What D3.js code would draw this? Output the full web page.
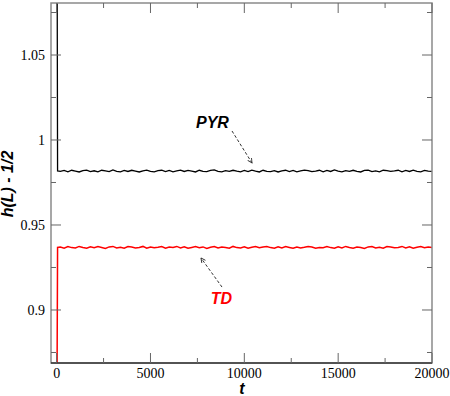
<!DOCTYPE html>
<html>
<head>
<meta charset="utf-8">
<script src="https://cdn.jsdelivr.net/npm/d3@7"></script>
<style>
  body { margin: 0; background: #fff; }
  svg { display: block; }
</style>
</head>
<body>
<div id="chart"></div>
<script>
// sample times: two transient points at the start, then one every 200 steps
var step = 200;
var headTimes = [0, 50];

// PYR series, h(L) - 1/2
var pyrHead = [1.25, 0.9818];
var pyrVals = [
  0.9815, 0.9821, 0.9813, 0.9822, 0.9817, 0.9812, 0.9820, 0.9823, 0.9814, 0.9819,
  0.9813, 0.9822, 0.9818, 0.9814, 0.9824, 0.9816, 0.9813, 0.9821, 0.9815, 0.9822,
  0.9817, 0.9812, 0.9819, 0.9823, 0.9816, 0.9813, 0.9820, 0.9822, 0.9814, 0.9821,
  0.9813, 0.9818, 0.9823, 0.9815, 0.9821, 0.9817, 0.9812, 0.9822, 0.9816, 0.9814,
  0.9821, 0.9824, 0.9816, 0.9813, 0.9820, 0.9815, 0.9822, 0.9817, 0.9813, 0.9821,
  0.9814, 0.9823, 0.9817, 0.9812, 0.9822, 0.9816, 0.9814, 0.9820, 0.9812, 0.9818,
  0.9822, 0.9814, 0.9821, 0.9813, 0.9818, 0.9823, 0.9820, 0.9814, 0.9817, 0.9822,
  0.9813, 0.9821, 0.9815, 0.9824, 0.9817, 0.9813, 0.9820, 0.9815, 0.9822, 0.9816,
  0.9812, 0.9821, 0.9823, 0.9814, 0.9818, 0.9813, 0.9822, 0.9820, 0.9815, 0.9818,
  0.9822, 0.9813, 0.9821, 0.9815, 0.9823, 0.9816, 0.9813, 0.9821, 0.9817, 0.9815
];

// TD series
var tdHead = [0.80, 0.9368];
var tdVals = [
  0.9371, 0.9364, 0.9373, 0.9367, 0.9365, 0.9374, 0.9368, 0.9363, 0.9372, 0.9366,
  0.9373, 0.9368, 0.9362, 0.9371, 0.9374, 0.9365, 0.9369, 0.9363, 0.9373, 0.9370,
  0.9365, 0.9368, 0.9374, 0.9363, 0.9371, 0.9366, 0.9369, 0.9373, 0.9364, 0.9371,
  0.9368, 0.9374, 0.9365, 0.9372, 0.9363, 0.9368, 0.9373, 0.9366, 0.9371, 0.9362,
  0.9369, 0.9373, 0.9365, 0.9371, 0.9368, 0.9363, 0.9374, 0.9367, 0.9365, 0.9372,
  0.9363, 0.9369, 0.9373, 0.9366, 0.9371, 0.9374, 0.9367, 0.9363, 0.9372, 0.9365,
  0.9373, 0.9368, 0.9363, 0.9371, 0.9365, 0.9369, 0.9374, 0.9370, 0.9363, 0.9368,
  0.9366, 0.9373, 0.9367, 0.9363, 0.9372, 0.9365, 0.9374, 0.9368, 0.9364, 0.9371,
  0.9368, 0.9362, 0.9371, 0.9373, 0.9365, 0.9369, 0.9363, 0.9373, 0.9371, 0.9366,
  0.9368, 0.9374, 0.9365, 0.9372, 0.9363, 0.9369, 0.9373, 0.9366, 0.9371, 0.9368
];

var xMajor = [0, 5000, 10000, 15000, 20000];
var xMinor = [2500, 7500, 12500, 17500];
var yMajor = [0.9, 0.95, 1, 1.05];
var yMinor = [0.875, 0.925, 0.975, 1.025, 1.075];

// annotations: text anchor (t, v), arrow from (t, v) to (t, v)
var notes = [
  { label: 'PYR', color: '#000', at: [7425, 1.0071], from: [9344, 1.0053], to: [10410, 0.9865] },
  { label: 'TD', color: '#ff0000', at: [8209, 0.9035], from: [8811, 0.9135], to: [7692, 0.9306] }
];

var width = 450, height = 396;
var margins = { left: 51, right: 18, top: 3, bottom: 33 };
var iw = width - margins.left - margins.right;
var ih = height - margins.top - margins.bottom;

var xScale = d3.scaleLinear().domain([-300, 20000]).range([0, iw]);
var yScale = d3.scaleLinear().domain([0.86882, 1.08059]).range([ih, 0]);

function toRows(head, vals) {
  var rows = head.map(function(v, i) { return { t: headTimes[i], v: v }; });
  vals.forEach(function(v, i) { rows.push({ t: (i + 1) * step, v: v }); });
  return rows;
}

var svg = d3.select('#chart').append('svg')
  .attr('width', width)
  .attr('height', height);

var defs = svg.append('defs');
defs.append('clipPath')
  .attr('id', 'clip')
  .append('rect')
  .attr('width', iw)
  .attr('height', ih);

defs.append('marker')
  .attr('id', 'arrow')
  .attr('viewBox', '0 0 8 8')
  .attr('refX', 7)
  .attr('refY', 4)
  .attr('markerWidth', 6)
  .attr('markerHeight', 6)
  .attr('markerUnits', 'userSpaceOnUse')
  .attr('orient', 'auto')
  .append('path')
  .attr('d', 'M1,1 L7,4 L1,7')
  .attr('fill', 'none')
  .attr('stroke', '#333')
  .attr('stroke-width', 1.2);

var viewport = svg.append('g')
  .attr('transform', 'translate(' + margins.left + ',' + margins.top + ')');

// series
var line = d3.line()
  .x(function(d) { return xScale(d.t); })
  .y(function(d) { return yScale(d.v); });

var plot = viewport.append('g').attr('clip-path', 'url(#clip)');
plot.append('path')
  .datum(toRows(pyrHead, pyrVals))
  .attr('d', line)
  .attr('fill', 'none')
  .attr('stroke', '#000')
  .attr('stroke-width', 1.3);
plot.append('path')
  .datum(toRows(tdHead, tdVals))
  .attr('d', line)
  .attr('fill', 'none')
  .attr('stroke', '#ff0000')
  .attr('stroke-width', 1.5);

// frame
viewport.append('rect')
  .attr('width', iw)
  .attr('height', ih)
  .attr('fill', 'none')
  .attr('stroke', '#8a8a8a')
  .attr('stroke-width', 1.5);
viewport.append('line')
  .attr('x1', 0).attr('x2', iw)
  .attr('y1', ih).attr('y2', ih)
  .attr('stroke', '#000')
  .attr('stroke-width', 1.2);

// ticks on all four sides, pointing inward
var ticks = viewport.append('g').attr('stroke', '#666').attr('stroke-width', 1);
function xTicks(vals, len) {
  vals.forEach(function(t) {
    var x = xScale(t);
    ticks.append('line').attr('x1', x).attr('x2', x).attr('y1', ih).attr('y2', ih - len);
    ticks.append('line').attr('x1', x).attr('x2', x).attr('y1', 0).attr('y2', len);
  });
}
function yTicks(vals, len) {
  vals.forEach(function(v) {
    var y = yScale(v);
    ticks.append('line').attr('x1', 0).attr('x2', len).attr('y1', y).attr('y2', y);
    ticks.append('line').attr('x1', iw).attr('x2', iw - len).attr('y1', y).attr('y2', y);
  });
}
xTicks(xMajor, 10);
xTicks(xMinor, 5);
yTicks(yMajor, 10);
yTicks(yMinor, 5);

// tick labels
var labelFont = "'Liberation Serif', 'Times New Roman', 'DejaVu Serif', serif";
viewport.selectAll('.xlab').data(xMajor).enter().append('text')
  .attr('x', function(d) { return xScale(d); })
  .attr('y', ih + 15)
  .attr('text-anchor', 'middle')
  .style('font-family', labelFont)
  .style('font-size', '14px')
  .text(function(d) { return d; });
viewport.selectAll('.ylab').data(yMajor).enter().append('text')
  .attr('x', -6)
  .attr('y', function(d) { return yScale(d); })
  .attr('dy', '0.35em')
  .attr('text-anchor', 'end')
  .style('font-family', labelFont)
  .style('font-size', '14px')
  .text(function(d) { return d; });

// axis titles
var titleFont = "'Liberation Sans', Arial, sans-serif";
svg.append('text')
  .attr('x', 242)
  .attr('y', 394)
  .attr('text-anchor', 'middle')
  .style('font-family', titleFont)
  .style('font-size', '16px')
  .style('font-weight', 'bold')
  .style('font-style', 'italic')
  .text('t');
svg.append('text')
  .attr('transform', 'translate(13,184) rotate(-90)')
  .attr('text-anchor', 'middle')
  .style('font-family', titleFont)
  .style('font-size', '16px')
  .style('font-weight', 'bold')
  .style('font-style', 'italic')
  .text('h(L) - 1/2');

// annotations
notes.forEach(function(n) {
  viewport.append('text')
    .attr('x', xScale(n.at[0]))
    .attr('y', yScale(n.at[1]))
    .style('font-family', titleFont)
    .style('font-size', '16px')
    .style('font-weight', 'bold')
    .style('font-style', 'italic')
    .attr('fill', n.color)
    .text(n.label);
  viewport.append('line')
    .attr('x1', xScale(n.from[0]))
    .attr('y1', yScale(n.from[1]))
    .attr('x2', xScale(n.to[0]))
    .attr('y2', yScale(n.to[1]))
    .attr('stroke', '#333')
    .attr('stroke-width', 1)
    .attr('stroke-dasharray', '3,2')
    .attr('marker-end', 'url(#arrow)');
});
</script>
</body>
</html>
